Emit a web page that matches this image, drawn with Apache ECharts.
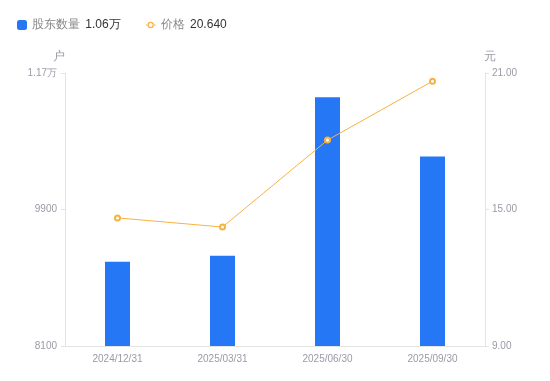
<!DOCTYPE html>
<html>
<head>
<meta charset="utf-8">
<script src="https://cdn.jsdelivr.net/npm/echarts@6/dist/echarts.min.js"></script>
<style>
  html, body { margin: 0; padding: 0; background: #fff; }
  #chart { width: 550px; height: 381px; }
</style>
</head>
<body>
<div id="chart"></div>
<script>
// 股东数量 + 价格 双轴图
var dates = ['2024/12/31', '2025/03/31', '2025/06/30', '2025/09/30'];
var holders = [9210, 9290, 11380, 10600];
var prices = [14.63, 14.23, 18.05, 20.64];
var holderTicks = [8100, 11700];
var priceTicks = [9, 21];

var barColor = '#2577f6';
var lineColor = '#f8b23f';

// legend icon for price: short line through a small ring
var lineIcon = 'path://M0,4.5h2.2v1h-2.2z M7.8,4.5h2.2v1h-2.2z ' +
  'M5,1.8a3.2,3.2 0 1,0 0.001,0z M5,3.1a1.9,1.9 0 1,1 -0.001,0z';

var chart = echarts.init(document.getElementById('chart'));

function fmtHolder(v) {
  if (v >= 10000) {
    return (v / 10000).toFixed(2) + '万';
  }
  return v;
}

var option = {
  animation: false,
  legend: {
    left: 12,
    top: 14,
    itemWidth: 10,
    itemHeight: 10,
    itemGap: 25,
    data: [
      { name: '股东数量', icon: 'roundRect' },
      { name: '价格', icon: lineIcon, itemStyle: { color: lineColor, borderWidth: 0 } }
    ],
    formatter: function (name) {
      if (name == '股东数量') {
        return '{n|' + name + '} {v|' + fmtHolder(holders[holders.length - 1]) + '}';
      }
      return '{n|' + name + '} {v|' + prices[prices.length - 1].toFixed(3) + '}';
    },
    textStyle: {
      rich: {
        n: { color: '#888', fontSize: 12, padding: [0, 2, 0, 0] },
        v: { color: '#333', fontSize: 12 }
      }
    }
  },
  grid: {
    left: 65,
    right: 65,
    top: 73,
    bottom: 35
  },
  xAxis: {
    type: 'category',
    data: dates,
    axisTick: { show: false },
    axisLine: { lineStyle: { color: '#e3e3e3' } },
    axisLabel: { color: '#9a9aa6', fontSize: 10, margin: 8 }
  },
  yAxis: [
    {
      type: 'value',
      name: '户',
      nameTextStyle: { color: '#9a9aa6', fontSize: 12, padding: [0, 12, 0, 0] },
      nameGap: 10,
      min: holderTicks[0],
      max: holderTicks[1],
      interval: (holderTicks[1] - holderTicks[0]) / 2,
      splitLine: { show: false },
      axisLine: { show: true, lineStyle: { color: '#e3e3e3' } },
      axisTick: { show: true, length: 4, lineStyle: { color: '#e3e3e3' } },
      axisLabel: { color: '#9a9aa6', fontSize: 10, margin: 8, formatter: fmtHolder }
    },
    {
      type: 'value',
      name: '元',
      nameTextStyle: { color: '#9a9aa6', fontSize: 12, padding: [0, 0, 0, 10] },
      nameGap: 10,
      min: priceTicks[0],
      max: priceTicks[1],
      interval: (priceTicks[1] - priceTicks[0]) / 2,
      splitLine: { show: false },
      axisLine: { show: true, lineStyle: { color: '#e3e3e3' } },
      axisTick: { show: true, length: 4, lineStyle: { color: '#e3e3e3' } },
      axisLabel: {
        color: '#9a9aa6',
        fontSize: 10,
        margin: 7,
        formatter: function (v) { return v.toFixed(2); }
      }
    }
  ],
  series: [
    {
      name: '股东数量',
      type: 'bar',
      barWidth: 25,
      data: holders,
      itemStyle: { color: barColor }
    },
    {
      name: '价格',
      type: 'line',
      yAxisIndex: 1,
      data: prices,
      symbol: 'emptyCircle',
      symbolSize: 5,
      lineStyle: { color: lineColor, width: 1 },
      itemStyle: { color: lineColor, borderWidth: 1.5 }
    }
  ]
};

chart.setOption(option);
</script>
</body>
</html>
